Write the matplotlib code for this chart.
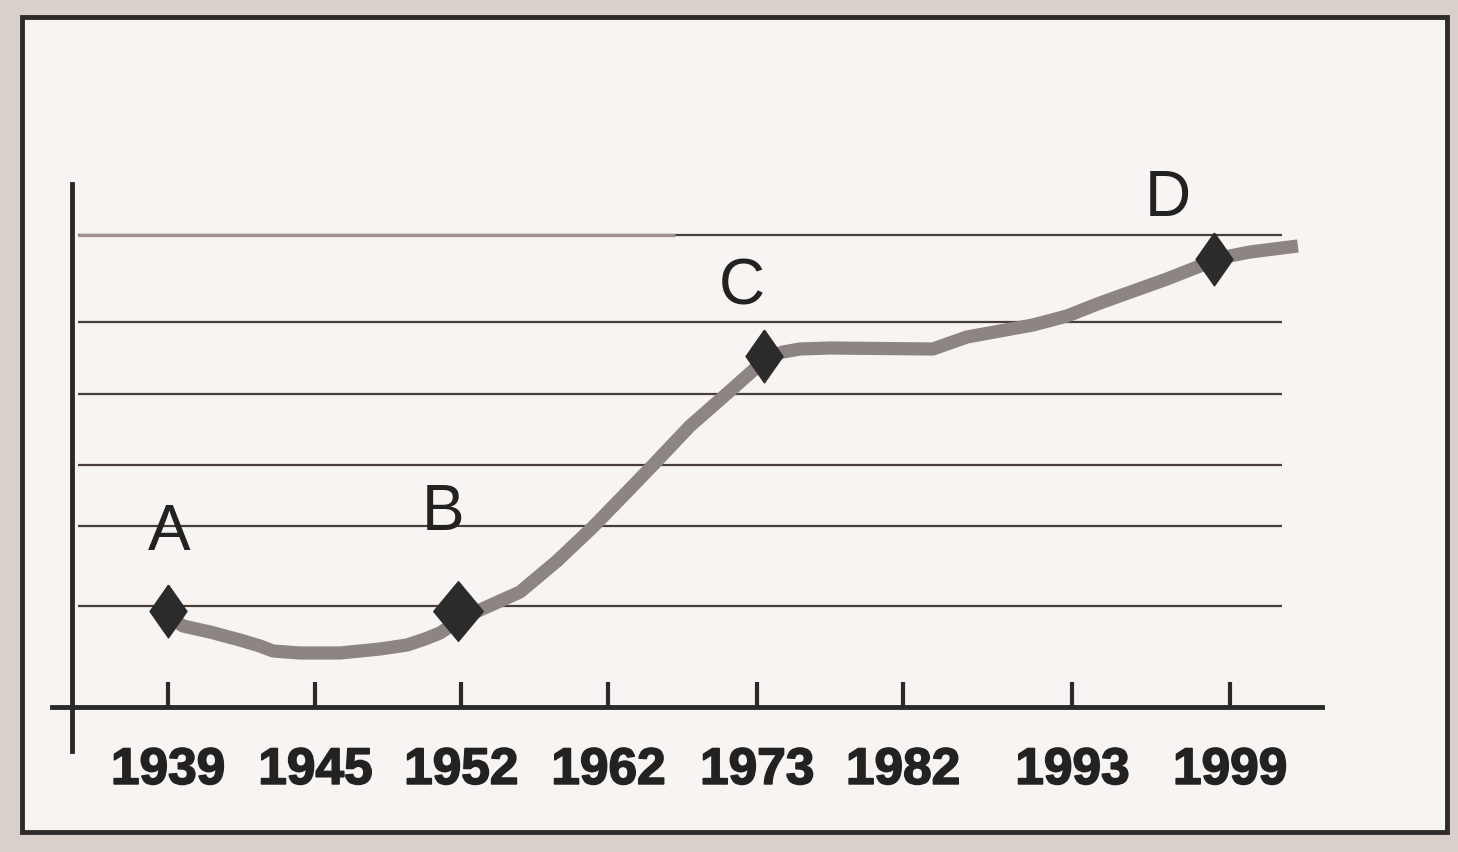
import numpy as np
import matplotlib.pyplot as plt
import matplotlib.patheffects as pe
from matplotlib.patches import Rectangle
from matplotlib.path import Path

plt.rcParams['font.family'] = ['Liberation Sans', 'DejaVu Sans']

# data
years = ['1939', '1945', '1952', '1962', '1973', '1982', '1993', '1999']
year_pos = [0.0, 1.0, 1.99, 2.99, 4.0, 4.99, 6.14, 7.21]
grid_levels = [1.01, 1.81, 2.42, 3.13, 3.85, 4.72]

curve_x = [0.000, 0.102, 0.285, 0.489, 0.624, 0.713, 0.896, 1.168, 1.439, 1.623,
           1.745, 1.847, 1.969, 2.118, 2.390, 2.641, 2.885, 3.116, 3.293, 3.544,
           3.815, 3.998, 4.046, 4.175, 4.291, 4.494, 5.193, 5.424, 5.648, 5.872,
           6.103, 6.327, 6.782, 7.006, 7.108, 7.345, 7.671]
curve_y = [0.91, 0.81, 0.75, 0.67, 0.61, 0.56, 0.54, 0.54, 0.58, 0.62,
           0.68, 0.74, 0.86, 0.97, 1.15, 1.46, 1.80, 2.15, 2.42, 2.81,
           3.16, 3.40, 3.48, 3.55, 3.58, 3.59, 3.58, 3.70, 3.76, 3.82,
           3.91, 4.04, 4.28, 4.41, 4.48, 4.55, 4.61]

point_labels = ['A', 'B', 'C', 'D']
point_x = [0.0, 1.969, 4.046, 7.101]
point_y = [0.96, 0.96, 3.51, 4.48]
label_offsets = [(1, 57), (-11, 71), (-16, 50), (-33, 44)]

# figure + frame
fig = plt.figure(figsize=(14.58, 8.53), dpi=100, facecolor='#d9d0cc')
fig.patches.append(Rectangle((22 / 1458, 1 - 833 / 853), 1425 / 1458, 815 / 853,
                             transform=fig.transFigure, facecolor='#f7f4f1',
                             edgecolor='#2e2b2a', linewidth=3.5, zorder=-1))

ax = fig.add_axes([40 / 1458, 1 - 760 / 853, 1290 / 1458, 590 / 853])
ax.set_facecolor('none')
ax.set_xlim(-0.869, 7.889)
ax.set_ylim(-0.52, 5.38)

# grid lines (top one is lighter on its left half)
ax.hlines(grid_levels, -0.61, 7.56, colors='#4a3e3a', linewidth=1.6, zorder=1)
ax.hlines(grid_levels[-1], -0.61, 3.44, colors='#a0938e', linewidth=2.4, zorder=1.1)

# axes lines
for s in ['top', 'right']:
    ax.spines[s].set_visible(False)
ax.spines['bottom'].set_position(('data', 0))
ax.spines['bottom'].set_bounds(-0.788, 7.834)
ax.spines['left'].set_position(('data', -0.652))
ax.spines['left'].set_bounds(-0.44, 5.23)
for s in ['bottom', 'left']:
    ax.spines[s].set_linewidth(3.5)
    ax.spines[s].set_color('#2a2a2a')
    ax.spines[s].set_zorder(2)

ax.set_xticks(year_pos)
ax.set_xticklabels(years, fontsize=37, fontweight='bold', color='#222222')
for t in ax.get_xticklabels():
    t.set_path_effects([pe.withStroke(linewidth=1.2, foreground='#222222')])
ax.tick_params(axis='x', direction='in', length=18, width=3, color='#2a2a2a', pad=28)
ax.set_yticks([])

# curve
ax.plot(curve_x, curve_y, color='#8c8582', linewidth=9.5,
        solid_capstyle='butt', solid_joinstyle='round', zorder=3)

diamond = Path([(0, 1), (0.7, 0), (0, -1), (-0.7, 0), (0, 1)])
diamond_b = Path([(0, 1), (0.83, 0), (0, -1), (-0.83, 0), (0, 1)])
for i, (lab, x, y) in enumerate(zip(point_labels, point_x, point_y)):
    if lab == 'B':
        ax.plot(x, y, marker=diamond_b, markersize=43, color='#2b2b2b', zorder=4)
    else:
        ax.plot(x, y, marker=diamond, markersize=38, color='#2b2b2b', zorder=4)
    ax.annotate(lab, (x, y), xytext=label_offsets[i], textcoords='offset points',
                ha='center', va='center', fontsize=46, color='#222222')

fig.savefig('out.png', dpi=100, facecolor=fig.get_facecolor())
